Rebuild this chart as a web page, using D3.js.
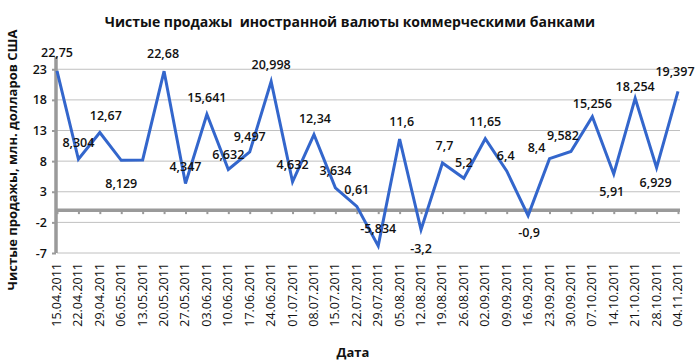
<!DOCTYPE html>
<html>
<head>
<meta charset="utf-8">
<script src="https://cdn.jsdelivr.net/npm/d3@7"></script>
<style>
  body { margin: 0; background: #fff; }
  svg { display: block; font-family: "Open Sans", sans-serif; }
</style>
</head>
<body>
<div id="chart"></div>
<script>
// данные с графика
const dates = ['15.04.2011','22.04.2011','29.04.2011','06.05.2011','13.05.2011','20.05.2011','27.05.2011',
  '03.06.2011','10.06.2011','17.06.2011','24.06.2011','01.07.2011','08.07.2011','15.07.2011','22.07.2011',
  '29.07.2011','05.08.2011','12.08.2011','19.08.2011','26.08.2011','02.09.2011','09.09.2011','16.09.2011',
  '23.09.2011','30.09.2011','07.10.2011','14.10.2011','21.10.2011','28.10.2011','04.11.2011'];
const values = [22.75, 8.304, 12.67, 8.129, 8.2, 22.68, 4.347, 15.641, 6.632, 9.497, 20.998, 4.632, 12.34,
  3.634, 0.61, -5.834, 11.6, -3.2, 7.7, 5.2, 11.65, 6.4, -0.9, 8.4, 9.582, 15.256, 5.91, 18.254, 6.929, 19.397];
// подписи точек (у 13.05 подписи нет)
const labels = ['22,75','8,304','12,67','8,129',null,'22,68','4,347','15,641','6,632','9,497','20,998','4,632',
  '12,34','3,634','0,61','-5,834','11,6','-3,2','7,7','5,2','11,65','6,4','-0,9','8,4','9,582','15,256',
  '5,91','18,254','6,929','19,397'];
const yTicks = [-7, -2, 3, 8, 13, 18, 23];

// смещения подписей относительно точки [dx, dy]
const labelOffsets = [[0,-18],[0,-17],[6,-17],[0,23],null,[-1,-18],[0,-17],[0,-17],[0,-15],[0,-15],[0,-17],
  [0,-17],[1,-16],[0,-17],[0,-17],[0,-17],[2,-17],[0,19],[2,-17],[0,-16],[0,-17],[-1,-15],[1,17],[-13,-11],
  [-8,-16],[0,-13],[-2,18],[0,-12],[-1,15],[-3,-20]];

const svgWidth = 700;
const svgHeight = 363;

const svg = d3.select('#chart')
  .append('svg')
  .attr('width', svgWidth)
  .attr('height', svgHeight);

const x = d3.scalePoint()
  .domain(dates)
  .range([57, 678]);

const y = d3.scaleLinear()
  .domain([-7, 25])
  .range([253, 57]);

// сетка
svg.append('g')
  .selectAll('line')
  .data(yTicks)
  .enter().append('line')
  .attr('x1', 57)
  .attr('x2', 680)
  .attr('y1', d => y(d))
  .attr('y2', d => y(d))
  .attr('stroke', '#c0c0c0')
  .attr('stroke-width', 1);

// ось Y
const yAxis = svg.append('g')
  .attr('transform', 'translate(56,0)')
  .call(d3.axisLeft(y).tickValues(yTicks).tickFormat(d => String(d)).tickSize(4).tickPadding(5));
yAxis.select('.domain').attr('stroke', '#9a9a9a').attr('stroke-width', 3.5).attr('d', `M0,${y(25)}V${y(-7)}`);
yAxis.selectAll('.tick line').attr('stroke', '#9a9a9a').attr('stroke-width', 2);
yAxis.selectAll('.tick text')
  .style('font-size', '12.5px')
  .style('font-family', '"Open Sans", sans-serif')
  .style('font-weight', '600')
  .attr('fill', '#111');

// ось X на нуле
const xAxis = svg.append('g')
  .attr('transform', `translate(0,${y(0)})`)
  .call(d3.axisBottom(x).tickSize(4).tickFormat(''));
xAxis.select('.domain').attr('stroke', '#9a9a9a').attr('stroke-width', 3.5).attr('d', `M56,0H680`);
xAxis.selectAll('.tick line').attr('stroke', '#9a9a9a').attr('stroke-width', 2);

// подписи дат внизу
svg.append('g')
  .selectAll('text')
  .data(dates)
  .enter().append('text')
  .attr('transform', d => `translate(${x(d) + 4},263) rotate(-90)`)
  .attr('text-anchor', 'end')
  .style('font-size', '12.5px')
  .attr('fill', '#111')
  .text(d => d);

// линия
const line = d3.line()
  .x((d, i) => x(dates[i]))
  .y(d => y(d));

svg.append('path')
  .datum(values)
  .attr('fill', 'none')
  .attr('stroke', '#3366cc')
  .attr('stroke-width', 3)
  .attr('stroke-linejoin', 'miter')
  .attr('d', line);

// подписи значений
const labelIdx = d3.range(values.length).filter(i => labels[i] !== null);
svg.append('g')
  .selectAll('text')
  .data(labelIdx)
  .enter().append('text')
  .attr('x', i => x(dates[i]) + labelOffsets[i][0])
  .attr('y', i => y(values[i]) + labelOffsets[i][1])
  .attr('dy', '0.35em')
  .attr('text-anchor', 'middle')
  .style('font-size', '12.5px')
  .style('font-weight', '600')
  .attr('fill', '#111')
  .text(i => labels[i]);

// заголовок
svg.append('text')
  .attr('x', 350)
  .attr('y', 27)
  .attr('text-anchor', 'middle')
  .attr('xml:space', 'preserve')
  .style('white-space', 'pre')
  .style('font-size', '14px')
  .style('font-weight', 'bold')
  .attr('fill', '#111')
  .text('Чистые продажы  иностранной валюты коммерческими банками');

// подпись оси X
svg.append('text')
  .attr('x', 353)
  .attr('y', 357)
  .attr('text-anchor', 'middle')
  .style('font-size', '13px')
  .style('font-weight', 'bold')
  .attr('fill', '#111')
  .text('Дата');

// подпись оси Y
svg.append('text')
  .attr('transform', 'rotate(-90)')
  .attr('x', -160)
  .attr('y', 17)
  .attr('text-anchor', 'middle')
  .style('font-size', '13px')
  .style('font-weight', 'bold')
  .attr('fill', '#111')
  .text('Чистые продажы, млн. долларов США');
</script>
</body>
</html>
